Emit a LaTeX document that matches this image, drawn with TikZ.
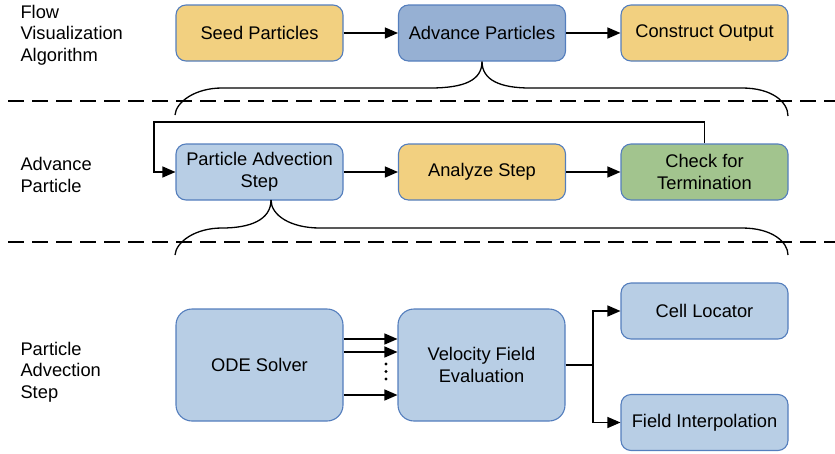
\documentclass[tikz,border=0pt]{standalone}
\usepackage{fontspec}
\setmainfont{Liberation Sans}
\usetikzlibrary{arrows.meta}

\definecolor{boxline}{RGB}{84,126,189}
\definecolor{sandfill}{RGB}{242,208,128}
\definecolor{bluefill}{RGB}{184,206,229}
\definecolor{deepfill}{RGB}{150,176,211}
\definecolor{greenfill}{RGB}{162,196,142}

\tikzset{
  stage/.style={draw=boxline, line width=1.1pt, rounded corners=10pt,
    minimum width=167pt, minimum height=56pt, align=center,
    font=\fontsize{18.3}{21.5}\selectfont},
  bigstage/.style={stage, minimum height=112pt, rounded corners=16pt},
  flow/.style={line width=1.3pt, -{Triangle[length=13pt,width=11pt]}},
  brace/.style={line width=1.3pt},
  layerline/.style={line width=1.3pt, dash pattern=on 16pt off 8pt},
  layername/.style={align=left, anchor=west, font=\fontsize{18.3}{21.5}\selectfont}
}

\begin{document}
\begin{tikzpicture}[x=1pt, y=-1pt]
	\useasboundingbox (0,0) rectangle (835,453);

	% names of the three layers
	\node[layername] (algname) at (17,35) {Flow\\Visualization\\Algorithm};
	\node[layername] (advname) at (17,175) {Advance\\Particle};
	\node[layername] (stepname) at (17,372) {Particle\\Advection\\Step};

	% top layer
	\node[stage, fill=sandfill] (seed) at (259.5,33) {Seed Particles};
	\node[stage, fill=deepfill] (advance) at (482,33) {Advance Particles};
	\node[stage, fill=sandfill] (output) at (704.5,33) {Construct Output};
	\draw[flow] (seed) -- (advance);
	\draw[flow] (advance) -- (output);

	\draw[layerline] (8,101) -- (835,101);
	\draw[layerline] (8,242) -- (835,242);

	% middle layer
	\node[stage, fill=bluefill] (pastep) at (259.5,172) {Particle Advection\\Step};
	\node[stage, fill=sandfill] (analyze) at (482,172) {Analyze Step};
	\node[stage, fill=greenfill] (check) at (704.5,172) {Check for\\Termination};
	\draw[flow] (pastep) -- (analyze);
	\draw[flow] (analyze) -- (check);
	\coordinate (loopcorner) at (154,122);
	\draw[flow] (check.north) |- (loopcorner) |- (pastep.west);

	% braces
	\coordinate (pastip) at (271,200);
	\draw[brace] (advance.south) .. controls (482,80) and (465,88) .. (430,88) -- (222,88)
		.. controls (195,88) and (176,102) .. (175,115);
	\draw[brace] (advance.south) .. controls (482,80) and (500,88) .. (530,88) -- (742,88)
		.. controls (772,88) and (788,102) .. (788,116);
	\draw[brace] (pastip) .. controls (271,220) and (250,228) .. (222,228)
		.. controls (195,228) and (176,242) .. (175,255);
	\draw[brace] (pastip) .. controls (271,215) and (290,228) .. (320,228) -- (742,228)
		.. controls (772,228) and (788,242) .. (788,255);

	% bottom layer
	\node[bigstage, fill=bluefill] (ode) at (259.5,365) {ODE Solver};
	\node[bigstage, fill=bluefill] (velocity) at (481.5,365) {Velocity Field\\Evaluation};
	\node[stage, fill=bluefill] (locator) at (704.5,311) {Cell Locator};
	\node[stage, fill=bluefill] (interp) at (704.5,422.5) {Field Interpolation};

	\foreach \ry in {339,352,395}
		\draw[flow] (ode.east |- 0,\ry) -- (velocity.west |- 0,\ry);
	\foreach \ry in {364,371.5,379}
		\fill (386,\ry) circle (1.6pt);

	\coordinate (fork) at (593,365);
	\draw[line width=1.3pt] (velocity.east) -- (fork);
	\draw[flow] (fork) |- (locator.west);
	\draw[flow] (fork) |- (interp.west);
\end{tikzpicture}
\end{document}
